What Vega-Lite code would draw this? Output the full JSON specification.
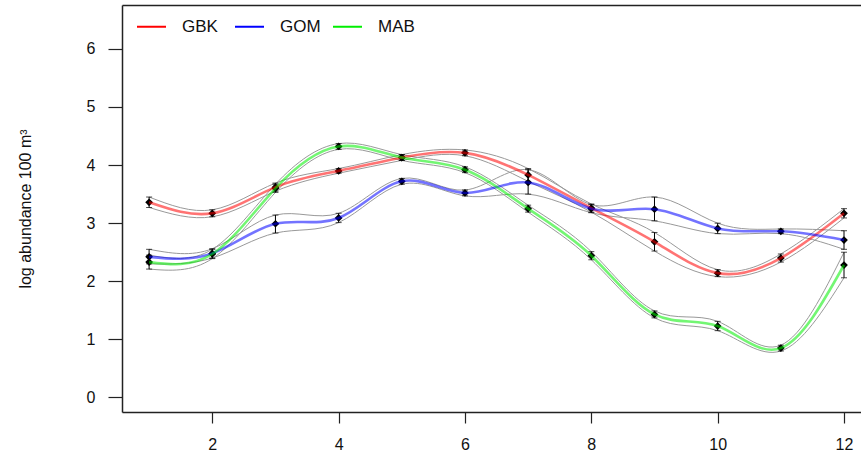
{
  "$schema": "https://vega.github.io/schema/vega-lite/v6.json",
  "autosize": {"type": "none"},
  "padding": {"left": 122, "top": 5, "right": 0, "bottom": 40},
  "width": 739,
  "height": 407,
  "background": "white",
  "config": {
    "view": {"stroke": null},
    "font": "Liberation Sans",
    "axis": {"grid": false, "domainColor": "#222", "tickColor": "#222", "labelColor": "#111", "labelFont": "Liberation Sans", "titleFont": "Liberation Sans", "titleFontWeight": "normal", "titleColor": "#111"}
  },
  "data": {"values": [
    {"month": 1, "series": "GBK", "mean": 3.36, "lo": 3.27, "hi": 3.45},
    {"month": 2, "series": "GBK", "mean": 3.17, "lo": 3.11, "hi": 3.23},
    {"month": 3, "series": "GBK", "mean": 3.62, "lo": 3.55, "hi": 3.69},
    {"month": 4, "series": "GBK", "mean": 3.90, "lo": 3.86, "hi": 3.94},
    {"month": 5, "series": "GBK", "mean": 4.13, "lo": 4.08, "hi": 4.18},
    {"month": 6, "series": "GBK", "mean": 4.21, "lo": 4.16, "hi": 4.26},
    {"month": 7, "series": "GBK", "mean": 3.83, "lo": 3.72, "hi": 3.94},
    {"month": 8, "series": "GBK", "mean": 3.26, "lo": 3.19, "hi": 3.33},
    {"month": 9, "series": "GBK", "mean": 2.68, "lo": 2.52, "hi": 2.84},
    {"month": 10, "series": "GBK", "mean": 2.14, "lo": 2.08, "hi": 2.20},
    {"month": 11, "series": "GBK", "mean": 2.40, "lo": 2.33, "hi": 2.47},
    {"month": 12, "series": "GBK", "mean": 3.17, "lo": 3.09, "hi": 3.25},
    {"month": 1, "series": "GOM", "mean": 2.42, "lo": 2.30, "hi": 2.55},
    {"month": 2, "series": "GOM", "mean": 2.48, "lo": 2.40, "hi": 2.56},
    {"month": 3, "series": "GOM", "mean": 2.99, "lo": 2.83, "hi": 3.14},
    {"month": 4, "series": "GOM", "mean": 3.09, "lo": 3.01, "hi": 3.17},
    {"month": 5, "series": "GOM", "mean": 3.72, "lo": 3.67, "hi": 3.77},
    {"month": 6, "series": "GOM", "mean": 3.52, "lo": 3.47, "hi": 3.57},
    {"month": 7, "series": "GOM", "mean": 3.70, "lo": 3.50, "hi": 3.92},
    {"month": 8, "series": "GOM", "mean": 3.25, "lo": 3.18, "hi": 3.32},
    {"month": 9, "series": "GOM", "mean": 3.24, "lo": 3.04, "hi": 3.45},
    {"month": 10, "series": "GOM", "mean": 2.91, "lo": 2.82, "hi": 3.00},
    {"month": 11, "series": "GOM", "mean": 2.86, "lo": 2.82, "hi": 2.90},
    {"month": 12, "series": "GOM", "mean": 2.71, "lo": 2.55, "hi": 2.87},
    {"month": 1, "series": "MAB", "mean": 2.33, "lo": 2.21, "hi": 2.45},
    {"month": 2, "series": "MAB", "mean": 2.47, "lo": 2.39, "hi": 2.55},
    {"month": 3, "series": "MAB", "mean": 3.60, "lo": 3.53, "hi": 3.67},
    {"month": 4, "series": "MAB", "mean": 4.32, "lo": 4.27, "hi": 4.37},
    {"month": 5, "series": "MAB", "mean": 4.13, "lo": 4.08, "hi": 4.18},
    {"month": 6, "series": "MAB", "mean": 3.92, "lo": 3.87, "hi": 3.97},
    {"month": 7, "series": "MAB", "mean": 3.25, "lo": 3.19, "hi": 3.31},
    {"month": 8, "series": "MAB", "mean": 2.44, "lo": 2.37, "hi": 2.51},
    {"month": 9, "series": "MAB", "mean": 1.43, "lo": 1.37, "hi": 1.49},
    {"month": 10, "series": "MAB", "mean": 1.23, "lo": 1.15, "hi": 1.31},
    {"month": 11, "series": "MAB", "mean": 0.85, "lo": 0.80, "hi": 0.90},
    {"month": 12, "series": "MAB", "mean": 2.28, "lo": 2.06, "hi": 2.50}
  ]},
  "resolve": {"axis": {"x": "independent"}},
  "layer": [
    {
      "mark": {"type": "line", "interpolate": "natural", "color": "#999999", "strokeWidth": 1},
      "encoding": {
        "x": {"field": "month", "type": "quantitative", "scale": {"domain": [0.571, 12.269], "nice": false, "zero": false},
              "axis": {"orient": "top", "labels": false, "ticks": false, "title": null, "domain": true, "domainWidth": 1.5}},
        "y": {"field": "hi", "type": "quantitative"},
        "detail": {"field": "series"}
      }
    },
    {
      "mark": {"type": "line", "interpolate": "natural", "color": "#999999", "strokeWidth": 1},
      "encoding": {
        "x": {"field": "month", "type": "quantitative",
              "axis": {"orient": "bottom", "values": [2, 4, 6, 8, 10, 12], "format": "d", "title": null, "tickSize": 11, "labelPadding": 13, "labelFontSize": 16, "domainWidth": 1.5, "tickWidth": 1.2, "labelFlush": false}},
        "y": {"field": "lo", "type": "quantitative",
              "scale": {"domain": [-0.25, 6.755], "nice": false, "zero": false},
              "axis": {"values": [0, 1, 2, 3, 4, 5, 6], "format": "d", "title": "log abundance 100 m³", "titleFontSize": 16, "titlePadding": 53, "tickSize": 14, "labelPadding": 13, "labelFontSize": 16, "domainWidth": 1.5, "tickWidth": 1.2, "labelFlush": false}},
        "detail": {"field": "series"}
      }
    },
    {
      "mark": {"type": "rule", "color": "black", "strokeWidth": 1},
      "encoding": {
        "x": {"field": "month", "type": "quantitative", "axis": null},
        "y": {"field": "lo", "type": "quantitative"},
        "y2": {"field": "hi"}
      }
    },
    {
      "mark": {"type": "tick", "orient": "horizontal", "color": "black", "size": 6, "thickness": 1},
      "encoding": {
        "x": {"field": "month", "type": "quantitative", "axis": null},
        "y": {"field": "hi", "type": "quantitative"}
      }
    },
    {
      "mark": {"type": "tick", "orient": "horizontal", "color": "black", "size": 6, "thickness": 1},
      "encoding": {
        "x": {"field": "month", "type": "quantitative", "axis": null},
        "y": {"field": "lo", "type": "quantitative"}
      }
    },
    {
      "mark": {"type": "point", "shape": "diamond", "filled": true, "color": "black", "size": 60, "opacity": 1},
      "encoding": {
        "x": {"field": "month", "type": "quantitative", "axis": null},
        "y": {"field": "mean", "type": "quantitative"}
      }
    },
    {
      "mark": {"type": "line", "interpolate": "natural", "strokeWidth": 2.6, "opacity": 0.55},
      "encoding": {
        "x": {"field": "month", "type": "quantitative", "axis": null},
        "y": {"field": "mean", "type": "quantitative"},
        "color": {"field": "series", "type": "nominal",
                  "scale": {"domain": ["GBK", "GOM", "MAB"], "range": ["#ff0000", "#0000ff", "#00ee00"]},
                  "legend": {"title": null, "orient": "none", "legendX": 14, "legendY": 6, "direction": "horizontal", "columns": 3, "gridAlign": "all",
                             "symbolType": "stroke", "symbolSize": 841, "symbolStrokeWidth": 2, "symbolOpacity": 1,
                             "labelFontSize": 17, "labelOffset": 15, "columnPadding": 8, "labelColor": "#111", "padding": 0}}
      }
    }
  ]
}
